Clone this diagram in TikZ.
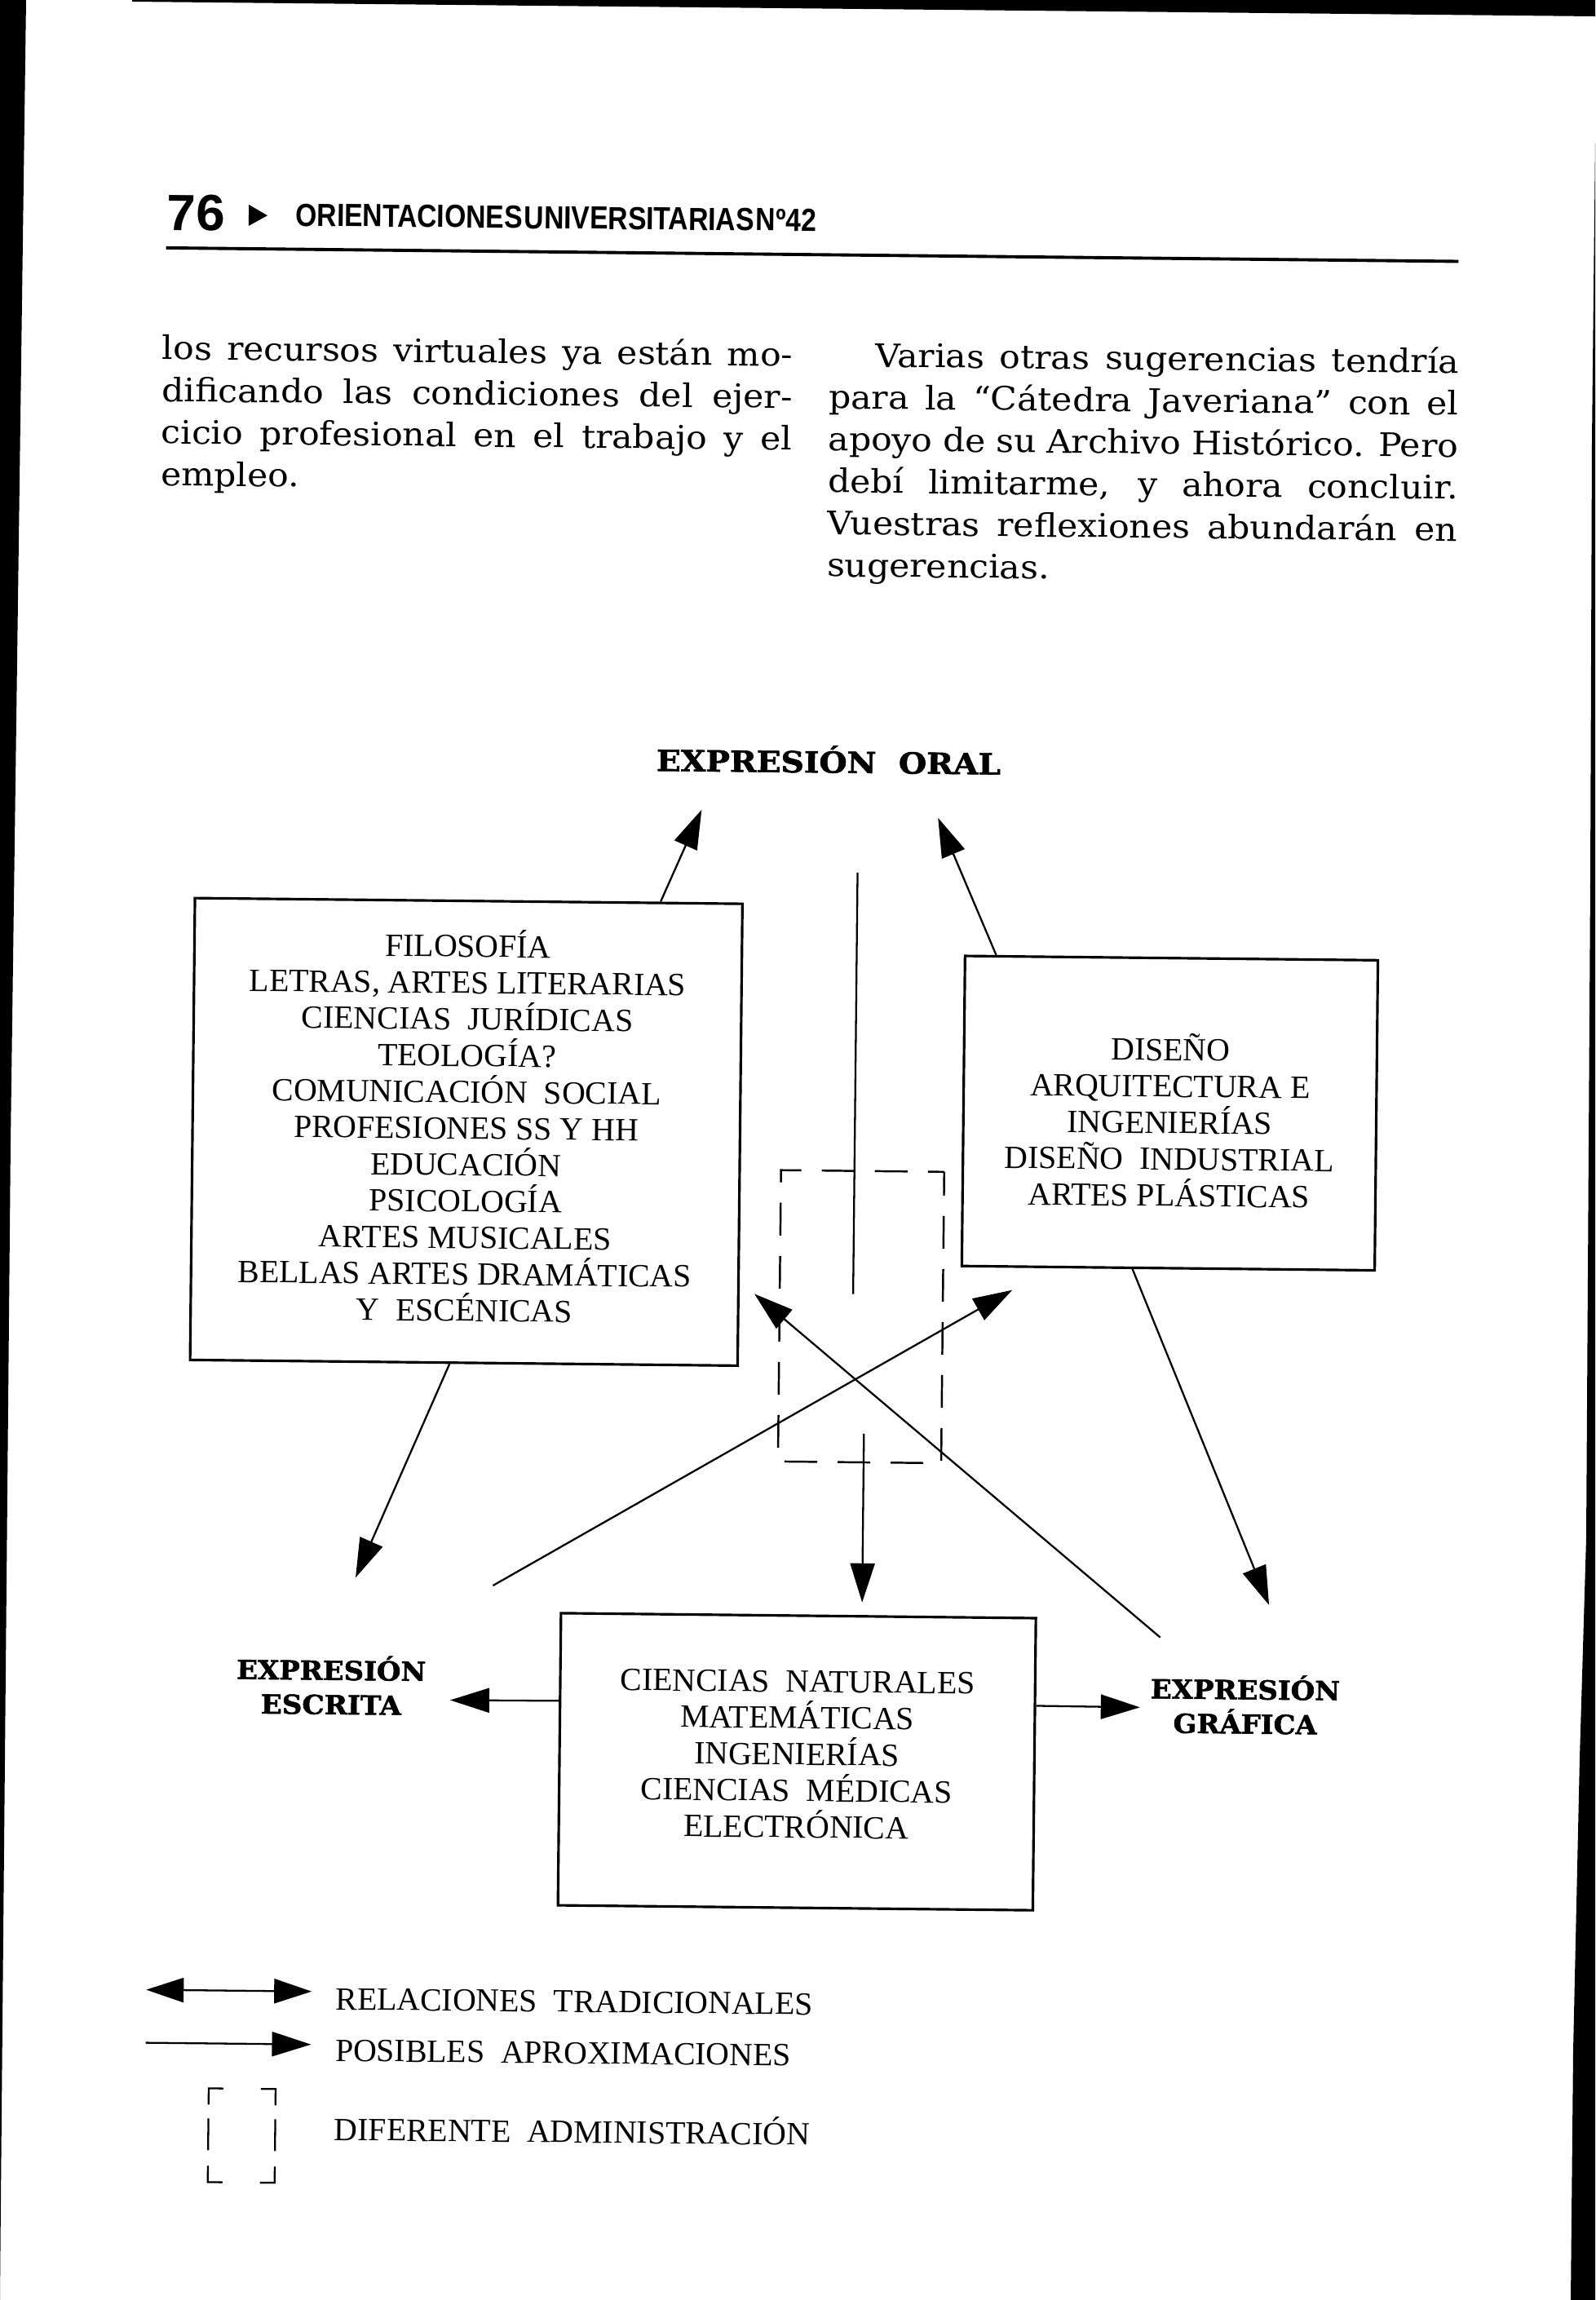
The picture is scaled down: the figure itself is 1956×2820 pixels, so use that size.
\documentclass[tikz,border=0pt]{standalone}
\usepackage{fontspec}
\setmainfont{DejaVu Serif}
\newfontfamily\boxserif{Liberation Serif}
\newfontfamily\hdsans{Liberation Sans}
\newfontfamily\labfont{DejaVu Serif}[BoldFeatures={FakeBold=1.6}]
\usetikzlibrary{arrows.meta,calc}
\newcommand{\fitto}[3]{\resizebox{#1}{#2}{\vphantom{E}\smash{#3}}}
\newcommand{\topstr}[1]{\rule{0pt}{\dimexpr #1\relax}}
\newcommand{\botstr}[1]{\rule[-\dimexpr #1\relax]{0pt}{\dimexpr #1\relax}}
\newcommand{\jline}[2]{\scalebox{1.07}[1]{\makebox[\dimexpr #1*100/107\relax][s]{#2}}}
\begin{document}
\begin{tikzpicture}[x=0.01cm, y=-0.01cm,
  boxst/.style={draw, line width=0.9pt, inner sep=0pt, align=center,
    font=\boxserif\fontsize{11.3pt}{12.7pt}\selectfont},
  arr/.style={line width=0.65pt, -{Triangle[length=0.48cm, width=0.30cm]}},
  dbl/.style={line width=0.65pt, {Triangle[length=0.46cm, width=0.30cm]}-{Triangle[length=0.46cm, width=0.30cm]}},
  lab/.style={inner sep=0pt, align=center, font=\labfont\bfseries\fontsize{10pt}{0.42cm}\selectfont},
  body/.style={anchor=base west, inner sep=0pt, font=\fontsize{11.3pt}{14pt}\selectfont},
  legtext/.style={anchor=base west, inner sep=0pt, font=\boxserif\fontsize{11.3pt}{12.7pt}\selectfont},
  hd/.style={anchor=west, inner sep=0pt, font=\hdsans\bfseries},
  dashbox/.style={draw, line width=0.7pt, dash pattern=on 0.40cm off 0.25cm, dash phase=0.2cm, inner sep=0pt},
  thin/.style={line width=0.65pt}
]
\fill[white] (0,0) rectangle (1956,2820);
\useasboundingbox (0,0) rectangle (1956,2820);
% scan borders
\fill[black] (0,0) -- (32,0) -- (13,1400) -- (1,2700) -- (0,2820) -- cycle;
\fill[black] (162,0) -- (1956,0) -- (1956,20) -- (162,2) -- cycle;
\fill[black] (1956,175) -- (1952,540) -- (1950,1080) -- (1945,1886) -- (1937,2155) -- (1929,2515) -- (1926,2820) -- (1956,2820) -- cycle;

\begin{scope}[rotate around={-0.6:(978,1410)}, every node/.append style={transform shape}]
% header
\node[hd] (pnum) at (192,269) {\fitto{0.71cm}{0.43cm}{76}};
\fill (293,258) -- (316,271) -- (293,284) -- cycle;
\node[hd] (phead) at (350,270) {\fitto{6.38cm}{0.27cm}{ORIENTACIONES\hspace{0.06em}UNIVERSITARIAS\hspace{0.06em}Nº42}};
\draw[line width=1.1pt] (192,312) -- (1777,312);

% body text
\node[body] (l1) at (188,449) {\jline{7.73cm}{los recursos virtuales ya están mo-}};
\node[body] (l2) at (188,500.5) {\jline{7.73cm}{dificando las condiciones del ejer-}};
\node[body] (l3) at (188,552) {\jline{7.73cm}{cicio profesional en el trabajo y el}};
\node[body] (l4) at (188,603.5) {\scalebox{1.07}[1]{empleo.}};
\node[body] (r1) at (1063,449) {\jline{7.15cm}{Varias otras sugerencias tendría}};
\node[body] (r2) at (1006,500.5) {\jline{7.72cm}{para la “Cátedra Javeriana” con el}};
\node[body] (r3) at (1006,552) {\jline{7.72cm}{apoyo de su Archivo Histórico. Pero}};
\node[body] (r4) at (1006,603.5) {\jline{7.72cm}{debí limitarme, y ahora concluir.}};
\node[body] (r5) at (1006,655) {\jline{7.72cm}{Vuestras reflexiones abundarán en}};
\node[body] (r6) at (1006,706.5) {\scalebox{1.07}[1]{sugerencias.}};

% diagram labels
\node[lab] (oral) at (1011,934) {\fitto{4.22cm}{0.26cm}{EXPRESIÓN\ \ ORAL}};
\node[lab] (esc) at (413,2075) {\fitto{2.32cm}{0.235cm}{EXPRESIÓN}\\\fitto{1.72cm}{0.235cm}{ESCRITA}};
\node[lab] (gra) at (1534,2087) {\fitto{2.32cm}{0.235cm}{EXPRESIÓN}\\\fitto{1.76cm}{0.235cm}{GRÁFICA}};

% boxes
\node[boxst, minimum width=6.71cm, minimum height=5.66cm] (L) at (571.5,1392)
 {\topstr{1em}FILOSOFÍA\\LETRAS, ARTES LITERARIAS\\CIENCIAS\ \ JURÍDICAS\\TEOLOGÍA?\\COMUNICACIÓN\ \ SOCIAL\\PROFESIONES SS Y HH\\EDUCACIÓN\\PSICOLOGÍA\\ARTES MUSICALES\\BELLAS ARTES DRAMÁTICAS\\Y\enspace ESCÉNICAS\botstr{0.3em+0.10cm}};
\node[boxst, minimum width=5.06cm, minimum height=3.80cm] (R) at (1434,1360)
 {\topstr{1em+0.22cm}DISEÑO\\ARQUITECTURA E\\INGENIERÍAS\\DISEÑO\ \ INDUSTRIAL\\ARTES PLÁSTICAS\botstr{0.3em}};
\node[boxst, minimum width=5.82cm, minimum height=3.58cm] (B) at (985,2160)
 {\topstr{1em}CIENCIAS\ \ NATURALES\\MATEMÁTICAS\\INGENIERÍAS\\CIENCIAS\ \ MÉDICAS\\ELECTRÓNICA\botstr{0.3em+0.2cm}};
\node[dashbox, minimum width=2.00cm, minimum height=3.57cm] (D) at (1058,1613.5) {};

% vertical lines
\coordinate (v1a) at (1048,1069);
\coordinate (v1b) at (1048,1586);
\draw[thin] (v1a) -- (v1b);
\coordinate (v2a) at (1063,1757);
\coordinate (v2b) at (1063,1964);
\draw[arr] (v2a) -- (v2b);

% connectors
\coordinate (a1t) at (856,994);
\draw[arr] ($(L.north west)!0.849!(L.north east)$) -- (a1t);
\coordinate (a2t) at (1146,1001);
\draw[arr] ($(R.north west)!0.078!(R.north east)$) -- (a2t);
\coordinate (a3t) at (441.5,1940);
\draw[arr] ($(L.south west)!0.474!(L.south east)$) -- (a3t);
\coordinate (a4t) at (1562,1962);
\draw[arr] ($(R.south west)!0.414!(R.south east)$) -- (a4t);
\coordinate (a5s) at (610,1948);
\coordinate (a5t) at (1243,1579);
\draw[arr] (a5s) -- (a5t);
\coordinate (a6s) at (1429,2003);
\coordinate (a6t) at (927,1587);
\draw[arr] (a6s) -- (a6t);
\coordinate (a7t) at (559,2089);
\draw[arr] ($(B.south west)!0.698!(B.north west)$) -- (a7t);
\coordinate (a8t) at (1405,2089);
\draw[arr] ($(B.south east)!0.698!(B.north east)$) -- (a8t);

% legend
\coordinate (lg1a) at (190,2448);
\coordinate (lg1b) at (393,2448);
\draw[dbl] (lg1a) -- (lg1b);
\coordinate (lg2a) at (190,2513);
\coordinate (lg2b) at (393,2513);
\draw[arr] (lg2a) -- (lg2b);
\node[legtext] (lt1) at (422,2470) {RELACIONES\ \ TRADICIONALES};
\node[legtext] (lt2) at (422,2533) {POSIBLES\ \ APROXIMACIONES};
\node[legtext] (lt3) at (422,2630) {DIFERENTE\ \ ADMINISTRACIÓN};
\draw[thin] (268,2588) -- (268,2568) -- (286,2568);
\draw[thin] (332,2568) -- (350,2568) -- (350,2588);
\draw[thin] (268,2605) -- (268,2644);
\draw[thin] (350,2605) -- (350,2644);
\draw[thin] (268,2663) -- (268,2683) -- (286,2683);
\draw[thin] (332,2683) -- (350,2683) -- (350,2663);
\end{scope}
\end{tikzpicture}
\end{document}
